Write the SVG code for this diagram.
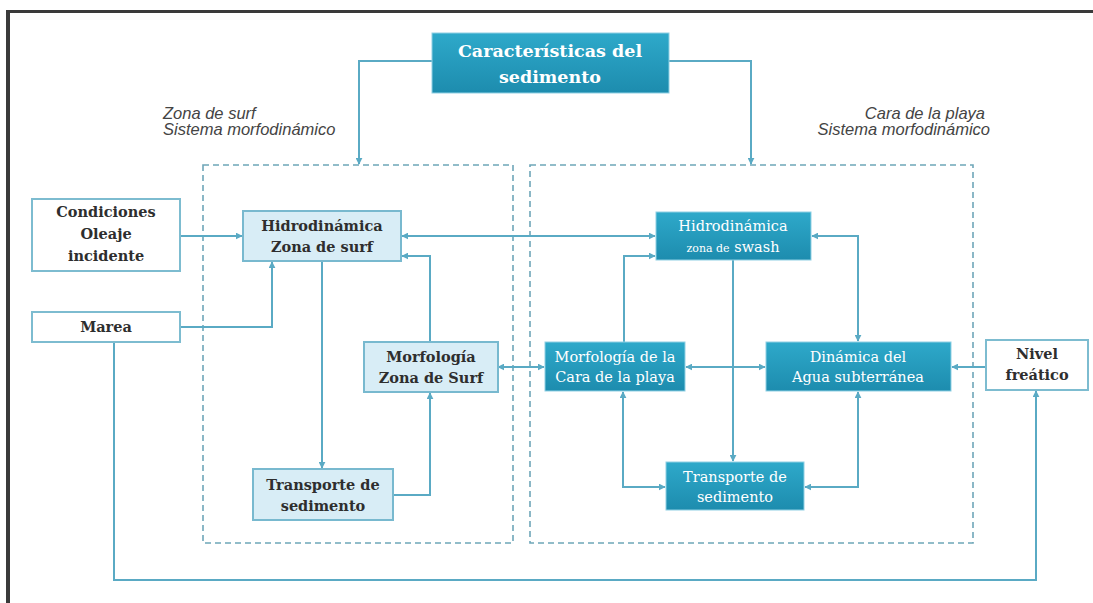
<svg xmlns="http://www.w3.org/2000/svg" width="1093" height="603" viewBox="0 0 1093 603">
<style>
.bg{fill:#ffffff}
.frame{fill:#3a3a3a}
.zone{fill:none;stroke:#6ea6b8;stroke-width:1.6;stroke-dasharray:6,4}
.ext{fill:#ffffff;stroke:#7dbcd0;stroke-width:2}
.lt{fill:#d8edf6;stroke:#78b9cf;stroke-width:2}
.dk{fill:url(#dkg);stroke:#8fd0e4;stroke-width:1}
.t{font-family:"DejaVu Serif","Liberation Serif",serif;font-size:14.5px;text-anchor:middle}
.td{fill:#2e2e2e;font-weight:bold}
.tw{fill:#ffffff}
.title{font-family:"DejaVu Serif","Liberation Serif",serif;font-size:17.5px;font-weight:bold;fill:#ffffff;text-anchor:middle}
.lab{font-family:"Liberation Sans",Arial,sans-serif;font-style:italic;font-size:16.5px;fill:#444444}
.c{fill:none;stroke:#5aaac4;stroke-width:2}
</style>
<defs>
<linearGradient id="dkg" x1="0" y1="0" x2="0" y2="1">
<stop offset="0" stop-color="#2ea9ca"/>
<stop offset="1" stop-color="#1d8cae"/>
</linearGradient>
<marker id="a" viewBox="0 0 10 10" refX="9" refY="5" markerWidth="7" markerHeight="7" markerUnits="userSpaceOnUse" orient="auto-start-reverse">
<path d="M0,0 L10,5 L0,10 z" fill="#5aaac4"/>
</marker>
</defs>
<rect class="bg" x="0" y="0" width="1093" height="603"/>
<rect class="frame" x="6" y="10" width="1087" height="3"/>
<rect class="frame" x="6" y="10" width="4" height="593"/>

<g id="zones">
<rect id="zone-surf" class="zone" x="203" y="165" width="310" height="378"/>
<rect id="zone-playa" class="zone" x="530" y="165" width="443" height="378"/>
</g>

<g id="labels">
<text class="lab" x="163" y="119">Zona de surf</text>
<text class="lab" x="163" y="135">Sistema morfodinámico</text>
<text class="lab" x="985" y="119" text-anchor="end">Cara de la playa</text>
<text class="lab" x="990" y="135" text-anchor="end">Sistema morfodinámico</text>
</g>

<g id="connectors">
<path class="c" d="M432,61 H359 V164" marker-end="url(#a)"/>
<path class="c" d="M669,61 H751 V164" marker-end="url(#a)"/>
<path class="c" d="M180,236 H242" marker-end="url(#a)"/>
<path class="c" d="M180,327 H272 V262" marker-end="url(#a)"/>
<path class="c" d="M402,236 H655" marker-start="url(#a)" marker-end="url(#a)"/>
<path class="c" d="M430,342 V256 H402" marker-end="url(#a)"/>
<path class="c" d="M322,261 V468" marker-end="url(#a)"/>
<path class="c" d="M393,495 H430 V393" marker-end="url(#a)"/>
<path class="c" d="M498,367 H544" marker-start="url(#a)" marker-end="url(#a)"/>
<path class="c" d="M624,342 V256 H655" marker-end="url(#a)"/>
<path class="c" d="M733,260 V461" marker-end="url(#a)"/>
<path class="c" d="M812,236 H858 V341" marker-start="url(#a)" marker-end="url(#a)"/>
<path class="c" d="M686,367 H765" marker-start="url(#a)" marker-end="url(#a)"/>
<path class="c" d="M986,367 H952" marker-end="url(#a)"/>
<path class="c" d="M623,392 V487 H665" marker-start="url(#a)" marker-end="url(#a)"/>
<path class="c" d="M858,392 V487 H805" marker-start="url(#a)" marker-end="url(#a)"/>
<path class="c" d="M114,342 V580 H1036 V391" marker-end="url(#a)"/>
</g>

<g id="n-caracteristicas">
<rect class="dk" x="432" y="33" width="237" height="60"/>
<text class="title" x="550" y="57">Características del</text>
<text class="title" x="550" y="83">sedimento</text>
</g>

<g id="n-condiciones">
<rect class="ext" x="32" y="199" width="148" height="72"/>
<text class="t td" x="106" y="217">Condiciones</text>
<text class="t td" x="106" y="239">Oleaje</text>
<text class="t td" x="106" y="261">incidente</text>
</g>

<g id="n-marea">
<rect class="ext" x="32" y="312" width="148" height="30"/>
<text class="t td" x="106" y="332">Marea</text>
</g>

<g id="n-hidro-surf">
<rect class="lt" x="243" y="211" width="158" height="50"/>
<text class="t td" x="322" y="231">Hidrodinámica</text>
<text class="t td" x="322" y="252">Zona de surf</text>
</g>

<g id="n-morf-surf">
<rect class="lt" x="364" y="342" width="134" height="50"/>
<text class="t td" x="431" y="362">Morfología</text>
<text class="t td" x="431" y="383">Zona de Surf</text>
</g>

<g id="n-transp-surf">
<rect class="lt" x="253" y="469" width="140" height="51"/>
<text class="t td" x="323" y="490">Transporte de</text>
<text class="t td" x="323" y="511">sedimento</text>
</g>

<g id="n-hidro-swash">
<rect class="dk" x="656" y="212" width="155" height="48"/>
<text class="t tw" x="733" y="231">Hidrodinámica</text>
<text class="t tw" x="733" y="252"><tspan font-size="11">zona de</tspan>   swash</text>
</g>

<g id="n-morf-cara">
<rect class="dk" x="545" y="342" width="140" height="49"/>
<text class="t tw" x="615" y="362">Morfología de la</text>
<text class="t tw" x="615" y="382">Cara de la playa</text>
</g>

<g id="n-dinamica">
<rect class="dk" x="766" y="342" width="185" height="49"/>
<text class="t tw" x="858" y="362">Dinámica del</text>
<text class="t tw" x="858" y="382">Agua subterránea</text>
</g>

<g id="n-transp-playa">
<rect class="dk" x="666" y="462" width="138" height="48"/>
<text class="t tw" x="735" y="482">Transporte de</text>
<text class="t tw" x="735" y="502">sedimento</text>
</g>

<g id="n-nivel">
<rect class="ext" x="986" y="340" width="102" height="50"/>
<text class="t td" x="1037" y="359">Nivel</text>
<text class="t td" x="1037" y="380">freático</text>
</g>
</svg>
